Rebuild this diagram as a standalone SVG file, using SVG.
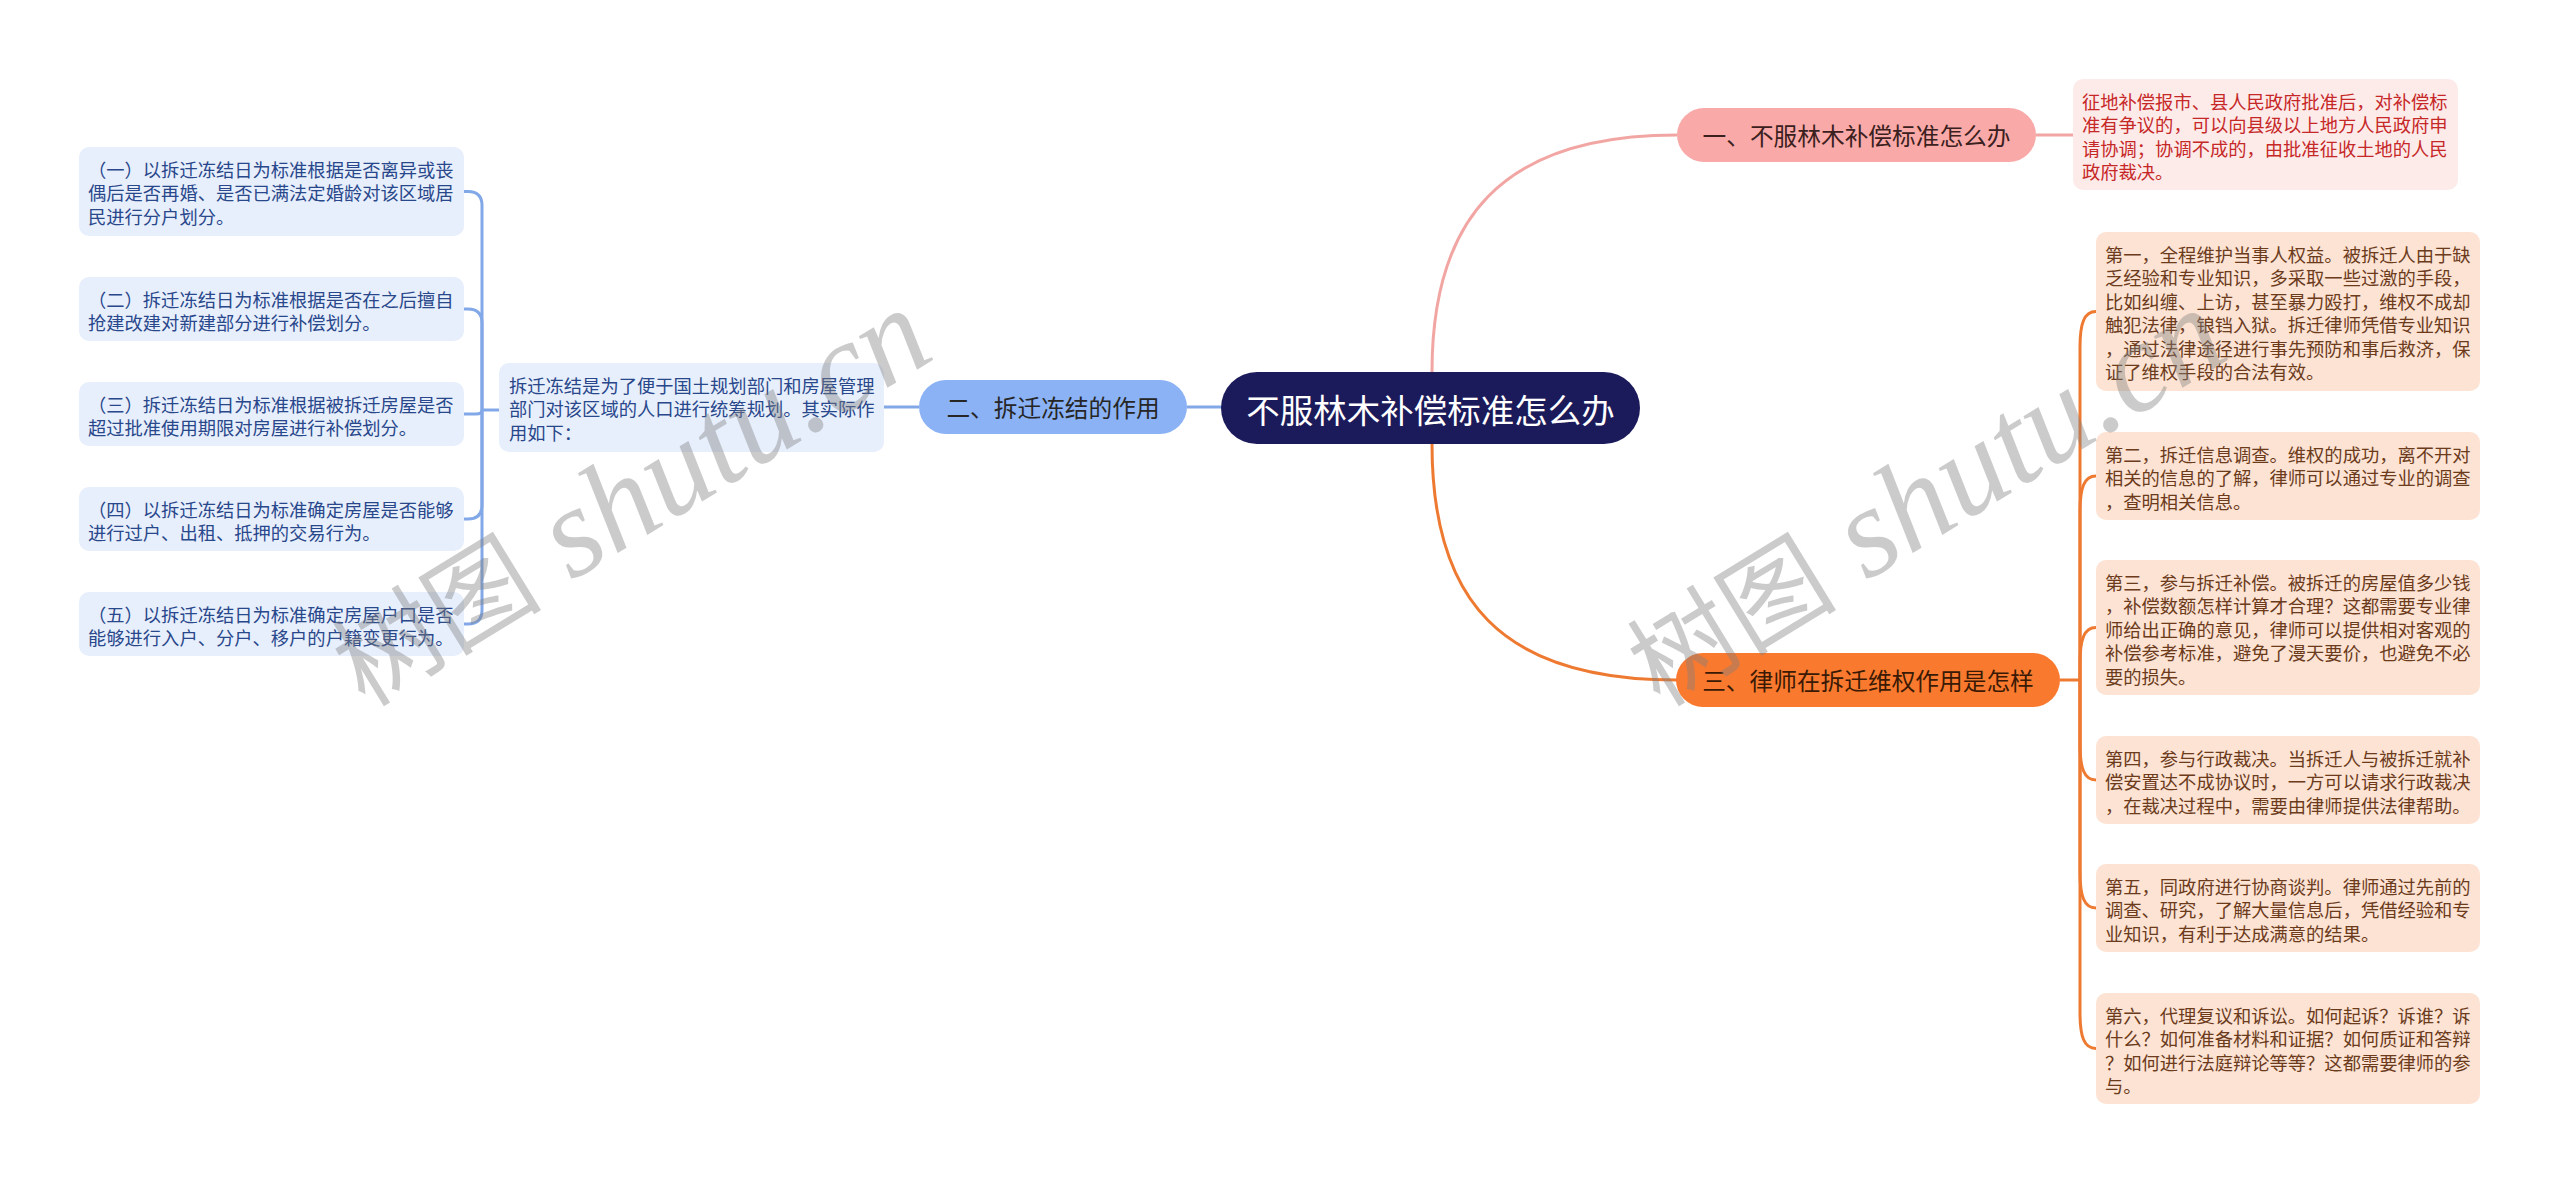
<svg xmlns="http://www.w3.org/2000/svg" width="2560" height="1184" viewBox="0 0 2560 1184">
<style>
text{font-family:"Noto Sans CJK SC","Noto Sans",sans-serif;dominant-baseline:central}
.lb rect{fill:#e7effc}
.lb text{fill:#29478b;font-size:18.3px}
.rb rect{fill:#fde3d3}
.rb text{fill:#6b3b1c;font-size:18.3px}
.pb rect{fill:#fdebea}
.pb text{fill:#c62828;font-size:18.3px}
.topic text{font-size:23.7px;text-anchor:middle}
.cb{fill:none;stroke:#82a8e8;stroke-width:3}
.cp{fill:none;stroke:#f2a6a3;stroke-width:3}
.co{fill:none;stroke:#ee7a32;stroke-width:3}
.wm{fill:#808080;opacity:0.4;font-size:105px;dominant-baseline:alphabetic}
.wm tspan{font-family:"Liberation Serif",serif;font-style:italic;font-size:128px}
</style>
<rect width="2560" height="1184" fill="#ffffff"/>
<g id="connectors">
<path class="cb" d="M1187,407 H1240"/>
<path class="cb" d="M884,407 H919"/>
<path class="cb" d="M499,410 H482"/>
<path class="cb" d="M482,410 V205.5 Q482,191.5 468,191.5 H464"/>
<path class="cb" d="M482,410 V323 Q482,309 468,309 H464"/>
<path class="cb" d="M482,410 Q482,414 476,414 H464"/>
<path class="cb" d="M482,410 V505 Q482,519 468,519 H464"/>
<path class="cb" d="M482,410 V610 Q482,624 468,624 H464"/>
<path class="cp" d="M1432,408 V372 C1432,220 1500,135 1677,135"/>
<path class="cp" d="M2036,135 H2073"/>
<path class="co" d="M1432,408 V444 C1432,600 1500,680 1677,680"/>
<path class="co" d="M2060,680 H2080"/>
<path class="co" d="M2080,680 V347.5 C2080,323.5 2084,311.5 2096,311.5"/>
<path class="co" d="M2080,680 V512 C2080,488 2084,476 2096,476"/>
<path class="co" d="M2080,680 V663.5 C2080,639.5 2084,627.5 2096,627.5"/>
<path class="co" d="M2080,680 V744 C2080,768 2084,780 2096,780"/>
<path class="co" d="M2080,680 V872 C2080,896 2084,908 2096,908"/>
<path class="co" d="M2080,680 V1012.5 C2080,1036.5 2084,1048.5 2096,1048.5"/>
</g>
<g id="root">
<rect x="1221" y="372" width="419" height="72" rx="36" fill="#1b1a5a"/>
<text x="1430.5" y="408" fill="#ffffff" font-size="33.5" text-anchor="middle">不服林木补偿标准怎么办</text>
</g>
<g id="topic1" class="topic">
<rect x="1677" y="108" width="359" height="54" rx="27" fill="#f9aaa8"/>
<text x="1856.5" y="135" fill="#3b2020">一、不服林木补偿标准怎么办</text>
</g>
<g id="topic2" class="topic">
<rect x="919" y="380" width="268" height="54" rx="27" fill="#8ab2f5"/>
<text x="1053" y="407" fill="#262626">二、拆迁冻结的作用</text>
</g>
<g id="topic3" class="topic">
<rect x="1676" y="653" width="384" height="54" rx="27" fill="#f9792e"/>
<text x="1868" y="680" fill="#3a1a05">三、律师在拆迁维权作用是怎样</text>
</g>
<g id="t1-detail" class="pb">
<rect x="2073" y="79" width="385" height="111" rx="10"/>
<text x="2082" y="100.5">征地补偿报市、县人民政府批准后，对补偿标</text>
<text x="2082" y="124">准有争议的，可以向县级以上地方人民政府申</text>
<text x="2082" y="147.5">请协调；协调不成的，由批准征收土地的人民</text>
<text x="2082" y="171">政府裁决。</text>
</g>
<g id="t2-detail" class="lb">
<rect x="499" y="363" width="385" height="89" rx="10"/>
<text x="509" y="384.5">拆迁冻结是为了便于国土规划部门和房屋管理</text>
<text x="509" y="408">部门对该区域的人口进行统筹规划。其实际作</text>
<text x="509" y="431.5">用如下：</text>
</g>
<g id="leaf-1" class="lb">
<rect x="79" y="147" width="385" height="89" rx="10"/>
<text x="88" y="168.5">（一）以拆迁冻结日为标准根据是否离异或丧</text>
<text x="88" y="192">偶后是否再婚、是否已满法定婚龄对该区域居</text>
<text x="88" y="215.5">民进行分户划分。</text>
</g>
<g id="leaf-2" class="lb">
<rect x="79" y="277" width="385" height="64" rx="10"/>
<text x="88" y="298.5">（二）拆迁冻结日为标准根据是否在之后擅自</text>
<text x="88" y="322">抢建改建对新建部分进行补偿划分。</text>
</g>
<g id="leaf-3" class="lb">
<rect x="79" y="382" width="385" height="64" rx="10"/>
<text x="88" y="403.5">（三）拆迁冻结日为标准根据被拆迁房屋是否</text>
<text x="88" y="427">超过批准使用期限对房屋进行补偿划分。</text>
</g>
<g id="leaf-4" class="lb">
<rect x="79" y="487" width="385" height="64" rx="10"/>
<text x="88" y="508.5">（四）以拆迁冻结日为标准确定房屋是否能够</text>
<text x="88" y="532">进行过户、出租、抵押的交易行为。</text>
</g>
<g id="leaf-5" class="lb">
<rect x="79" y="592" width="385" height="64" rx="10"/>
<text x="88" y="613.5">（五）以拆迁冻结日为标准确定房屋户口是否</text>
<text x="88" y="637">能够进行入户、分户、移户的户籍变更行为。</text>
</g>
<g id="r-1" class="rb">
<rect x="2096" y="232" width="384" height="159" rx="10"/>
<text x="2105" y="253.5">第一，全程维护当事人权益。被拆迁人由于缺</text>
<text x="2105" y="277">乏经验和专业知识，多采取一些过激的手段，</text>
<text x="2105" y="300.5">比如纠缠、上访，甚至暴力殴打，维权不成却</text>
<text x="2105" y="324">触犯法律，锒铛入狱。拆迁律师凭借专业知识</text>
<text x="2105" y="347.5">，通过法律途径进行事先预防和事后救济，保</text>
<text x="2105" y="371">证了维权手段的合法有效。</text>
</g>
<g id="r-2" class="rb">
<rect x="2096" y="432" width="384" height="88" rx="10"/>
<text x="2105" y="453.5">第二，拆迁信息调查。维权的成功，离不开对</text>
<text x="2105" y="477">相关的信息的了解，律师可以通过专业的调查</text>
<text x="2105" y="500.5">，查明相关信息。</text>
</g>
<g id="r-3" class="rb">
<rect x="2096" y="560" width="384" height="135" rx="10"/>
<text x="2105" y="581.5">第三，参与拆迁补偿。被拆迁的房屋值多少钱</text>
<text x="2105" y="605">，补偿数额怎样计算才合理？这都需要专业律</text>
<text x="2105" y="628.5">师给出正确的意见，律师可以提供相对客观的</text>
<text x="2105" y="652">补偿参考标准，避免了漫天要价，也避免不必</text>
<text x="2105" y="675.5">要的损失。</text>
</g>
<g id="r-4" class="rb">
<rect x="2096" y="736" width="384" height="88" rx="10"/>
<text x="2105" y="757.5">第四，参与行政裁决。当拆迁人与被拆迁就补</text>
<text x="2105" y="781">偿安置达不成协议时，一方可以请求行政裁决</text>
<text x="2105" y="804.5">，在裁决过程中，需要由律师提供法律帮助。</text>
</g>
<g id="r-5" class="rb">
<rect x="2096" y="864" width="384" height="88" rx="10"/>
<text x="2105" y="885.5">第五，同政府进行协商谈判。律师通过先前的</text>
<text x="2105" y="909">调查、研究，了解大量信息后，凭借经验和专</text>
<text x="2105" y="932.5">业知识，有利于达成满意的结果。</text>
</g>
<g id="r-6" class="rb">
<rect x="2096" y="993" width="384" height="111" rx="10"/>
<text x="2105" y="1014.5">第六，代理复议和诉讼。如何起诉？诉谁？诉</text>
<text x="2105" y="1038">什么？如何准备材料和证据？如何质证和答辩</text>
<text x="2105" y="1061.5">？如何进行法庭辩论等等？这都需要律师的参</text>
<text x="2105" y="1085">与。</text>
</g>
<g id="watermarks">
<text class="wm" transform="translate(365,708) rotate(-31.5)">树图<tspan> shutu.cn</tspan></text>
<text class="wm" transform="translate(1660,708) rotate(-31.5)">树图<tspan> shutu.cn</tspan></text>
</g>
</svg>
